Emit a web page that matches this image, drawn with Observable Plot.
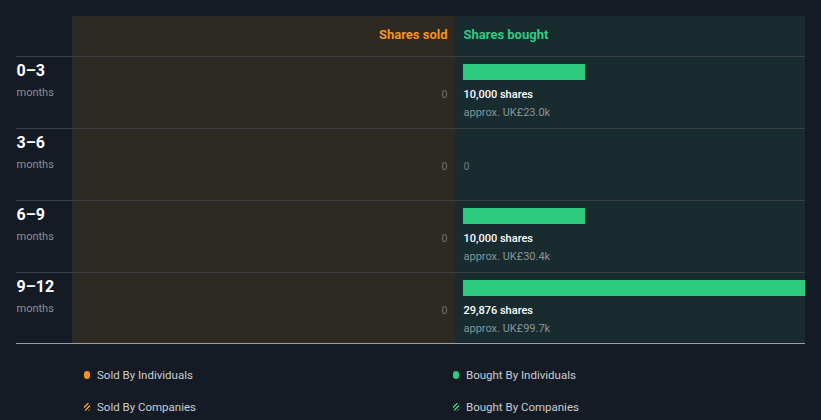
<!DOCTYPE html>
<html>
<head>
<meta charset="utf-8">
<script src="https://cdn.jsdelivr.net/npm/d3@7"></script>
<script src="https://cdn.jsdelivr.net/npm/@observablehq/plot@0.6"></script>
<style>
  html, body { margin: 0; padding: 0; background: #151b25; }
  body { width: 821px; height: 420px; overflow: hidden; font-family: Roboto, "Noto Sans", sans-serif; }
  #chart svg { display: block; }
  #legend { position: relative; height: 70px; color: #c9ced3; font-size: 11.5px; }
  .item { position: absolute; display: flex; align-items: center; transform: translateY(-50%); }
  .sw { width: 6px; height: 8px; border-radius: 3px; margin-right: 7px; display: inline-block; }
</style>
</head>
<body>
<div id="chart"></div>
<div id="legend"></div>
<script>
const rows = ["0–3", "3–6", "6–9", "9–12"];
const rowUnit = ["months", "months", "months", "months"];
const sharesSold = [0, 0, 0, 0];
const sharesBought = [10000, 0, 10000, 29876];
const approxValue = ["UK£23.0k", "", "UK£30.4k", "UK£99.7k"];
const headers = ["Shares sold", "Shares bought"];
const legendLabels = ["Sold By Individuals", "Bought By Individuals", "Sold By Companies", "Bought By Companies"];

const ORANGE = "#f7931e", GREEN = "#2ecc81";
const data = rows.map((r, i) => ({row: r, unit: rowUnit[i], sold: sharesSold[i], bought: sharesBought[i], approx: approxValue[i]}));

function backgrounds(index, scales, values, dims) {
  const {width, height, marginTop, marginBottom, marginLeft, marginRight} = dims;
  const x0 = scales.x(0);
  const g = d3.create("svg:g");
  const top = marginTop - 40, bottom = height - marginBottom - 1;
  const right = width - marginRight;
  const mid = x0 - 8;
  g.append("rect").attr("x", marginLeft).attr("y", top).attr("width", mid - marginLeft).attr("height", bottom - top).attr("fill", "#2d2923");
  g.append("rect").attr("x", mid).attr("y", top).attr("width", right - mid).attr("height", bottom - top).attr("fill", "#182b2f");
  const rowH = (height - marginTop - marginBottom) / rows.length;
  rows.forEach((r, i) => {
    const yy = Math.round(scales.y ? scales.y(r) : marginTop + i * rowH) + 0.5;
    g.append("line").attr("x1", 16).attr("x2", right).attr("y1", yy).attr("y2", yy).attr("stroke", "#3a3f42");
  });
  g.append("line").attr("x1", 16).attr("x2", right).attr("y1", bottom + 0.5).attr("y2", bottom + 0.5).attr("stroke", "#9aa0a5");
  return g.node();
}

const chart = Plot.plot({
  width: 821,
  height: 350,
  marginTop: 56,
  marginBottom: 6,
  marginLeft: 72,
  marginRight: 16,
  style: {fontFamily: "Roboto, 'Noto Sans', sans-serif", background: "transparent"},
  x: {domain: [0, 28030], range: [463, 805], clamp: true, axis: null},
  y: {domain: rows, padding: 0, axis: null},
  marks: [
    backgrounds,
    // headers
    Plot.text([headers[0]], {x: () => 0, text: d => d, frameAnchor: "top", dy: -22, dx: -16, textAnchor: "end", lineAnchor: "middle", fill: ORANGE, fontWeight: "bold", fontSize: 13}),
    Plot.text([headers[1]], {x: () => 0, text: d => d, frameAnchor: "top", dy: -22, textAnchor: "start", lineAnchor: "middle", fill: GREEN, fontWeight: "bold", fontSize: 13}),
    // row labels
    Plot.text(data, {y: "row", text: "row", frameAnchor: "left", dx: -56, dy: -22, textAnchor: "start", lineAnchor: "middle", fill: "#ffffff", fontWeight: "bold", fontSize: 16}),
    Plot.text(data, {y: "row", text: "unit", frameAnchor: "left", dx: -56, dy: 0, textAnchor: "start", lineAnchor: "middle", fill: "#8b9095", fontSize: 11}),
    // sold values
    Plot.text(data, {x: () => 0, y: "row", text: d => d3.format(",")(d.sold), dx: -16, dy: 2, textAnchor: "end", lineAnchor: "middle", fill: "#6e7174", fontSize: 10.5}),
    // bought bars
    Plot.barX(data.filter(d => d.bought > 0), {x1: () => 0, x2: "bought", y: "row", insetTop: 8, insetBottom: 48, fill: GREEN}),
    Plot.text(data.filter(d => d.bought > 0), {x: () => 0, y: "row", text: d => d3.format(",")(d.bought) + " shares", dy: 2, textAnchor: "start", lineAnchor: "middle", fill: "#ffffff", fontWeight: 500, fontSize: 11}),
    Plot.text(data.filter(d => d.bought > 0), {x: () => 0, y: "row", text: d => "approx. " + d.approx, dy: 20, textAnchor: "start", lineAnchor: "middle", fill: "#8a9599", fontSize: 11}),
    Plot.text(data.filter(d => d.bought === 0), {x: () => 0, y: "row", text: d => d3.format(",")(d.bought), dy: 2, textAnchor: "start", lineAnchor: "middle", fill: "#6e7a7c", fontSize: 10.5})
  ]
});
document.getElementById("chart").append(chart);

const legend = document.getElementById("legend");
const swatches = [
  `background:${ORANGE}`,
  `background:${GREEN}`,
  `background: repeating-linear-gradient(-45deg, ${ORANGE} 0 1.5px, #151b25 1.5px 3px)`,
  `background: repeating-linear-gradient(-45deg, ${GREEN} 0 1.5px, #151b25 1.5px 3px)`
];
const pos = [[84, 25], [453, 25], [84, 57], [453, 57]];
legendLabels.forEach((lab, i) => {
  const el = document.createElement("div");
  el.className = "item";
  el.style.left = pos[i][0] + "px";
  el.style.top = pos[i][1] + "px";
  el.innerHTML = `<span class="sw" style="${swatches[i]}"></span><span>${lab}</span>`;
  legend.append(el);
});
</script>
</body>
</html>
